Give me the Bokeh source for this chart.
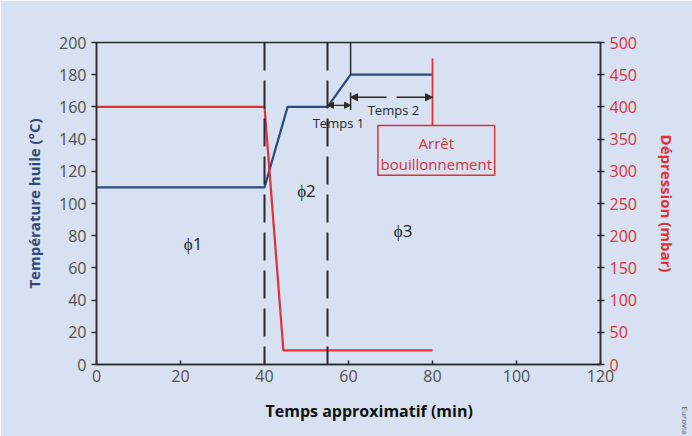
from bokeh.plotting import figure
from bokeh.models import Range1d, LinearAxis, Span, Arrow, NormalHead, Title, BoxAnnotation, FixedTicker, ColumnDataSource
from bokeh.core.properties import value
from bokeh.embed import file_html
from bokeh.resources import INLINE

# --- data ---
time_temp = [0, 40, 45.5, 55, 60.5, 80]
temp_oil = [110, 110, 160, 160, 180, 180]
time_dep = [0, 40, 44.5, 80]
depression = [400, 400, 22, 22]
phase_bounds = [40, 55]
x_ticks = [0, 20, 40, 60, 80, 100, 120]
y_ticks = [0, 20, 40, 60, 80, 100, 120, 140, 160, 180, 200]
y2_ticks = [0, 50, 100, 150, 200, 250, 300, 350, 400, 450, 500]
phase_labels = ["\u03d51", "\u03d52", "\u03d53"]
phase_x = [23, 50, 73]
phase_y = [75, 108, 83]

BG = "#d7e1f1"
BLUE = "#2c4a7e"
RED = "#e0303a"
DARK = "#2a2a2a"
GREY = "#505050"
FONT = "Open Sans"

p = figure(width=692, height=436, x_range=Range1d(0, 120), y_range=Range1d(0, 200),
           output_backend="svg", toolbar_location=None,
           min_border_left=96, min_border_right=92, min_border_top=42, min_border_bottom=72)
p.background_fill_color = BG
p.border_fill_color = BG
p.outline_line_color = DARK
p.outline_line_width = 1.5
p.xgrid.visible = False
p.ygrid.visible = False
p.extra_y_ranges = {"dep": Range1d(0, 500)}

def style_axis(ax, tick_color):
    ax.axis_line_color = DARK
    ax.axis_line_width = 1.5
    ax.major_tick_line_color = DARK
    ax.major_tick_line_width = 1.5
    ax.minor_tick_line_color = None
    ax.major_label_text_font = FONT
    ax.major_label_text_font_size = "16px"
    ax.major_label_text_color = tick_color
    ax.axis_label_text_font = FONT
    ax.axis_label_text_font_style = "bold"
    ax.axis_label_text_font_size = "15px"

xa = p.xaxis[0]
style_axis(xa, GREY)
xa.ticker = FixedTicker(ticks=x_ticks)
xa.major_tick_in = 4
xa.major_tick_out = 0

ya = p.yaxis[0]
style_axis(ya, GREY)
ya.ticker = FixedTicker(ticks=y_ticks)
ya.major_tick_in = 0
ya.major_tick_out = 5
ya.axis_label = "Température huile (°C)"
ya.axis_label_text_color = BLUE
ya.axis_label_standoff = 12

ra = LinearAxis(y_range_name="dep")
style_axis(ra, RED)
ra.ticker = FixedTicker(ticks=y2_ticks)
ra.major_tick_in = 3
ra.major_tick_out = 4
ra.axis_label = "Dépression (mbar)"
ra.axis_label_text_color = RED
ra.axis_label_standoff = 17
p.add_layout(ra, "right")

# x-axis title (off-centre, as in the original)
p.add_layout(Title(text="Temps approximatif (min)", text_font=FONT, text_font_style="bold",
                   text_font_size="16px", text_color="#111111", align="left", offset=169,
                   standoff=27), "below")

# credit
p.add_layout(Title(text="Eurovia", text_font=FONT, text_font_style="normal", text_font_size="8px",
                   text_color="#555555", align="right", offset=-70, standoff=0), "right")

# phase boundaries
for b in phase_bounds:
    p.add_layout(Span(location=b, dimension="height", line_color=DARK, line_width=2, line_dash="28 10"))

# curves
p.line(time_temp, temp_oil, line_color=BLUE, line_width=2.2)
p.line(time_dep, depression, line_color=RED, line_width=2.2, y_range_name="dep")

# markers of Temps 1 / Temps 2
t1_end = time_temp[4]
stop_t = time_temp[5]
p.segment(x0=[t1_end, t1_end], y0=[180, 158], x1=[t1_end, t1_end], y1=[200, 169], line_color=DARK, line_width=1.5)
p.segment(x0=[stop_t], y0=[372], x1=[stop_t], y1=[475], line_color=RED, line_width=1.8, y_range_name="dep")

p.add_layout(Arrow(x_start=55, y_start=161, x_end=t1_end, y_end=161, line_color=DARK, line_width=1.3,
                   start=NormalHead(size=6, fill_color=DARK, line_color=DARK),
                   end=NormalHead(size=6, fill_color=DARK, line_color=DARK)))
p.add_layout(Arrow(x_start=t1_end, y_start=166, x_end=stop_t, y_end=166, line_color=DARK, line_width=1.3,
                   line_dash="36 10",
                   start=NormalHead(size=7, fill_color=DARK, line_color=DARK),
                   end=NormalHead(size=7, fill_color=DARK, line_color=DARK)))

src_lbl = ColumnDataSource(dict(x=[57.6, 70.7], y=[150, 158], t=["Temps 1", "Temps 2"]))
p.text(x="x", y="y", text="t", source=src_lbl, text_font=value(FONT), text_font_size="13px",
       text_color=DARK, text_align="center", text_baseline="middle")

src_ph = ColumnDataSource(dict(x=phase_x, y=phase_y, t=phase_labels))
p.text(x="x", y="y", text="t", source=src_ph, text_font=value(FONT), text_font_size="17px",
       text_color="#222222", text_align="center", text_baseline="middle")

# stop box
p.add_layout(BoxAnnotation(left=67, right=94.8, bottom=117.5, top=148.5, fill_alpha=0,
                           line_color=RED, line_alpha=1.0, line_width=1.5))
src_box = ColumnDataSource(dict(x=[80.9, 80.9], y=[137.5, 124.5], t=["Arrêt", "bouillonnement"]))
p.text(x="x", y="y", text="t", source=src_box, text_font=value(FONT), text_font_size="15px",
       text_color=RED, text_align="center", text_baseline="middle")

open("out.html", "w").write(file_html(p, INLINE))
